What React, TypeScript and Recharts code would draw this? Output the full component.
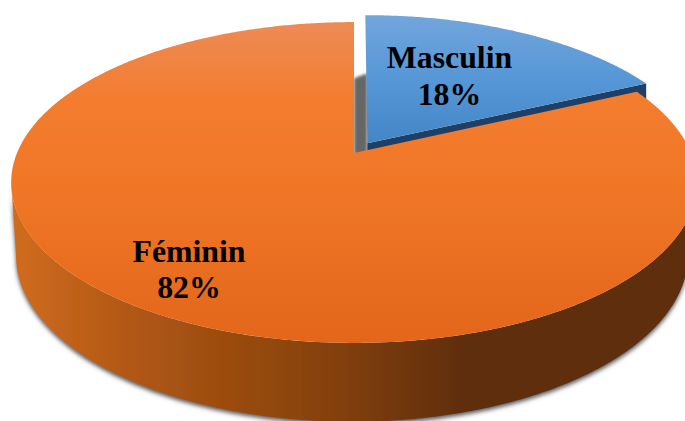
import React from "react";
import { PieChart, Pie } from "recharts";

const names = ["Masculin", "Féminin"];
const values = [18, 82];
const exploded = [0.075, 0];
const labelSpots = [
  { x: 449.5, y: 68, dy: 37 },
  { x: 189, y: 262, dy: 36 },
];

const data = names.map((name, i) => ({ name, value: values[i], explode: exploded[i] }));

// tilt of the disc, the near edge comes out bigger than the far edge
const TILT = 0.1838;
const WIDTH_RATIO = 3.37;
const HEIGHT_RATIO = 1.55;
const RAD = Math.PI / 180;
// angle where the projected rim is at its widest, the wall starts and stops there
const TANGENT = Math.asin(TILT) / RAD;

const project = (cx: number, cy: number, r: number, w: number, v: number) => {
  const d = 1 + TILT * v;
  return { x: cx + (WIDTH_RATIO * r * w) / d, y: cy - (HEIGHT_RATIO * r * v) / d };
};

const toPath = (pts: { x: number; y: number }[]) =>
  pts.map((p, i) => `${i ? "L" : "M"}${p.x.toFixed(2)} ${p.y.toFixed(2)}`).join(" ") + " Z";

const PieSlice = (props: any) => {
  const { cx, cy, outerRadius, startAngle, endAngle, payload, index } = props;
  const offset = payload.explode ?? 0;
  const mid = ((startAngle + endAngle) / 2) * RAD;
  const ox = offset * Math.cos(mid);
  const oy = offset * Math.sin(mid);

  const rim = (deg: number) =>
    project(cx, cy, outerRadius, ox + Math.cos(deg * RAD), oy + Math.sin(deg * RAD));
  const apex = project(cx, cy, outerRadius, ox, oy);

  const steps = Math.ceil(Math.abs(startAngle - endAngle) * 2);
  const arc: { x: number; y: number }[] = [];
  for (let i = 0; i <= steps; i++) {
    arc.push(rim(startAngle + ((endAngle - startAngle) * i) / steps));
  }

  if (index === 0) {
    const last = arc[arc.length - 1];
    return (
      <g>
        <defs>
          <linearGradient id="blueTop" x1="0" y1="14" x2="0" y2="150" gradientUnits="userSpaceOnUse">
            <stop offset="0%" stopColor="#73A6DC" />
            <stop offset="50%" stopColor="#5596D6" />
            <stop offset="100%" stopColor="#4184C4" />
          </linearGradient>
          <filter id="notchBlur" x="-30%" y="-30%" width="160%" height="160%">
            <feGaussianBlur stdDeviation="1.5" />
          </filter>
        </defs>
        <path
          d={toPath([
            { x: cx, y: apex.y - 65 },
            { x: apex.x, y: apex.y - 70 },
            { x: apex.x, y: apex.y + 10 },
            { x: cx, y: apex.y + 12 },
          ])}
          fill="#666666"
          filter="url(#notchBlur)"
        />
        <path
          d={toPath([
            apex,
            last,
            { x: last.x, y: last.y + 20 },
            { x: apex.x, y: apex.y + 20 },
          ])}
          fill="#1F3F66"
        />
        <path d={toPath([apex, ...arc])} fill="url(#blueTop)" />
      </g>
    );
  }

  // side wall, only the part facing us
  const wallSteps = 320;
  const wallStart = -TANGENT;
  const wallEnd = -180 + TANGENT;
  const wallTop: { x: number; y: number }[] = [];
  const wallBottom: { x: number; y: number }[] = [];
  const rimCy = cy + 30;
  for (let i = 0; i <= wallSteps; i++) {
    const p = rim(wallStart + ((wallEnd - wallStart) * i) / wallSteps);
    wallTop.push(p);
    wallBottom.push({
      x: cx - 2 + (p.x - cx) * 0.98,
      y: rimCy + 73 + (p.y - rimCy) * 1.037,
    });
  }

  return (
    <g>
      <defs>
        <linearGradient id="orangeTop" x1="0" y1="22" x2="0" y2="343" gradientUnits="userSpaceOnUse">
          <stop offset="0%" stopColor="#ED8B56" />
          <stop offset="25%" stopColor="#F37C2E" />
          <stop offset="50%" stopColor="#F17727" />
          <stop offset="100%" stopColor="#E3661A" />
        </linearGradient>
        <linearGradient id="orangeWall" x1="14" y1="0" x2="685" y2="0" gradientUnits="userSpaceOnUse">
          <stop offset="0%" stopColor="#D06C1E" />
          <stop offset="15%" stopColor="#B55A16" />
          <stop offset="30%" stopColor="#9E4D10" />
          <stop offset="48%" stopColor="#83400E" />
          <stop offset="68%" stopColor="#5E2D0B" />
          <stop offset="100%" stopColor="#5E2E0C" />
        </linearGradient>
        <filter id="wallShadow" x="-5%" y="-5%" width="110%" height="115%">
          <feDropShadow dx="0" dy="2.5" stdDeviation="2" floodColor="#444444" floodOpacity="0.9" />
        </filter>
      </defs>
      <path
        d={toPath([...wallTop, ...wallBottom.slice().reverse()])}
        fill="url(#orangeWall)"
        filter="url(#wallShadow)"
      />
      <path d={toPath([apex, ...arc])} fill="url(#orangeTop)" />
    </g>
  );
};

const renderLabel = ({ index }: any) => {
  const spot = labelSpots[index];
  const style = {
    fontFamily: "'Liberation Serif', serif",
    fontWeight: 700,
    fontSize: 31.8,
    fill: "#000000",
  };
  return (
    <g key={names[index]}>
      <text x={spot.x} y={spot.y} textAnchor="middle" style={style}>
        {names[index]}
      </text>
      <text x={spot.x} y={spot.y + spot.dy} textAnchor="middle" style={style}>
        {`${values[index]}%`}
      </text>
    </g>
  );
};

const App = () => {
  return (
    <div style={{ position: "absolute", left: 0, top: 0, width: 685, height: 421, overflow: "hidden", background: "#fff" }}>
      <PieChart width={685} height={421} margin={{ top: 0, right: 0, bottom: 0, left: 0 }}>
        <Pie
          data={data}
          dataKey="value"
          nameKey="name"
          cx={354}
          cy={153}
          innerRadius={0}
          outerRadius={100}
          startAngle={90}
          endAngle={-270}
          stroke="none"
          shape={PieSlice}
          label={renderLabel}
          labelLine={false}
          isAnimationActive={false}
        />
      </PieChart>
    </div>
  );
};

export default App;
